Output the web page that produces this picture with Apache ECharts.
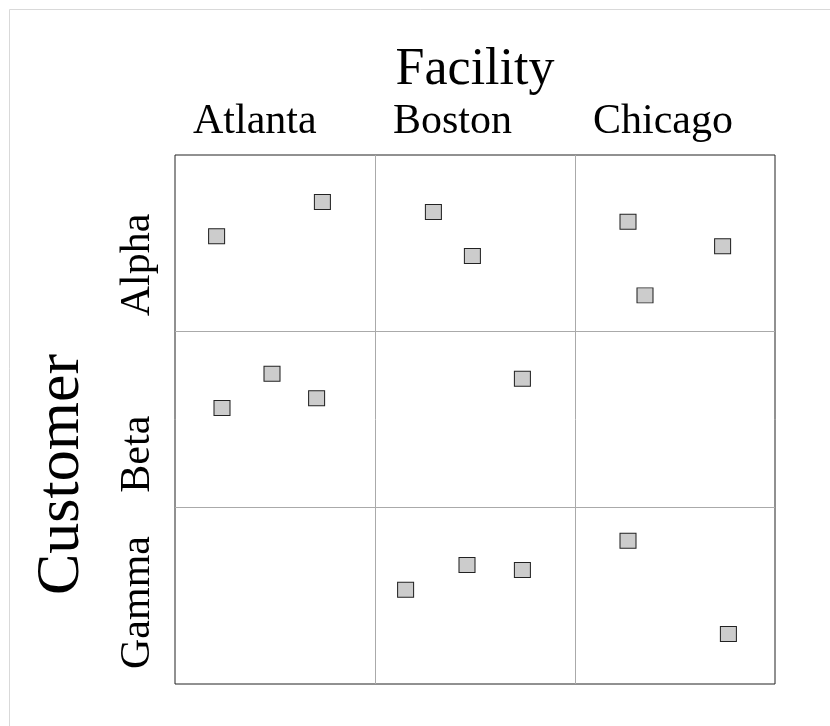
<!DOCTYPE html>
<html>
<head>
<meta charset="utf-8">
<script src="https://cdn.jsdelivr.net/npm/echarts@6/dist/echarts.min.js"></script>
<style>
html,body{margin:0;padding:0;background:#fff;}
#chart{width:830px;height:726px;}
</style>
</head>
<body>
<div id="chart"></div>
<script>
// Categories
const facilities = ['Atlanta', 'Boston', 'Chicago'];
const customers = ['Alpha', 'Beta', 'Gamma'];
const xTitle = 'Facility';
const yTitle = 'Customer';

// Each point: its facility, its customer and its position inside the cell (0..1)
const pointFacility = ['Atlanta','Atlanta','Boston','Boston','Chicago','Chicago','Chicago',
                       'Atlanta','Atlanta','Atlanta','Boston',
                       'Boston','Boston','Boston','Chicago','Chicago'];
const pointCustomer = ['Alpha','Alpha','Alpha','Alpha','Alpha','Alpha','Alpha',
                       'Beta','Beta','Beta','Beta',
                       'Gamma','Gamma','Gamma','Gamma','Gamma'];
const jitterX = [0.737,0.208,0.292,0.487,0.265,0.738,0.350,
                 0.485,0.708,0.235,0.737,
                 0.460,0.737,0.153,0.265,0.767];
const jitterY = [0.267,0.461,0.323,0.573,0.378,0.518,0.796,
                 0.240,0.380,0.435,0.269,
                 0.325,0.354,0.465,0.187,0.716];

const data = pointFacility.map((f, i) => [
  facilities.indexOf(f) + jitterX[i],
  customers.indexOf(pointCustomer[i]) + jitterY[i]
]);

const font = 'Liberation Serif';
const chart = echarts.init(document.getElementById('chart'), null, {renderer: 'canvas'});
chart.setOption({
  backgroundColor: '#fff',
  animation: false,
  graphic: [{
    type: 'rect', left: 7, top: 7, silent: true, z: -10,
    shape: {width: 900, height: 900},
    style: {fill: 'none', stroke: '#d9d9d9', lineWidth: 1}
  }],
  grid: {
    left: 175, top: 155, width: 600, height: 529,
    show: true, borderColor: '#222', borderWidth: 1, backgroundColor: 'transparent'
  },
  xAxis: {
    type: 'value', position: 'top', min: 0, max: 3, interval: 1,
    name: xTitle, nameLocation: 'middle', nameGap: 58,
    nameTextStyle: {fontFamily: font, fontSize: 52, color: '#000'},
    axisLine: {show: false}, axisTick: {show: false},
    splitLine: {show: true, showMinLine: false, showMaxLine: false, lineStyle: {color: '#aaa', width: 1}},
    axisLabel: {
      show: true, showMinLabel: true, showMaxLabel: true,
      formatter: v => facilities[v] || '',
      fontFamily: font, fontSize: 42, color: '#000',
      align: 'left', margin: 12, padding: [0, 0, 0, 18]
    }
  },
  yAxis: {
    type: 'value', inverse: true, min: 0, max: 3, interval: 1,
    name: yTitle, nameLocation: 'middle', nameGap: 82, nameRotate: 90,
    nameTextStyle: {fontFamily: font, fontSize: 62, color: '#000', padding: [0, 110, 0, 0]},
    axisLine: {show: false}, axisTick: {show: false},
    splitLine: {show: true, showMinLine: false, showMaxLine: false, lineStyle: {color: '#aaa', width: 1}},
    axisLabel: {
      show: true, showMinLabel: true, showMaxLabel: true,
      formatter: v => customers[v - 1] || '',
      rotate: 90, fontFamily: font, fontSize: 42, color: '#000',
      align: 'left', verticalAlign: 'bottom', margin: 16, padding: [0, 0, 0, 15]
    }
  },
  series: [{
    type: 'scatter',
    data: data,
    symbol: 'rect',
    symbolSize: [16, 15],
    itemStyle: {color: '#cccccc', borderColor: '#222', borderWidth: 1, opacity: 1}
  }]
});
</script>
</body>
</html>
